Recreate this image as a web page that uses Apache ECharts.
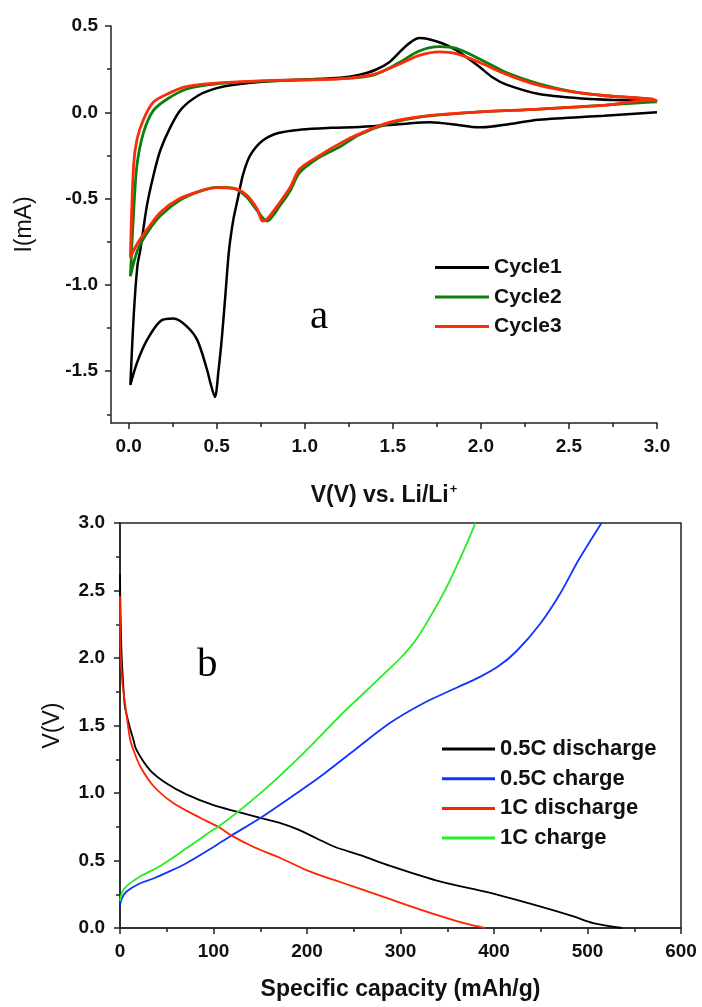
<!DOCTYPE html>
<html>
<head>
<meta charset="utf-8">
<script src="https://cdn.jsdelivr.net/npm/echarts@6/dist/echarts.min.js"></script>
<style>
html,body{margin:0;padding:0;background:#fff;}
#c{width:702px;height:1007px;}
</style>
</head>
<body>
<div id="c"></div>
<script>
// ---------- Panel a: cyclic voltammetry ----------
const cvNames = ['Cycle1', 'Cycle2', 'Cycle3'];
const cvXTicks = [0, 0.5, 1.0, 1.5, 2.0, 2.5, 3.0];
const cvXMinor = [0.25, 0.75, 1.25, 1.75, 2.25, 2.75];
const cvYTicks = [-1.5, -1.0, -0.5, 0.0, 0.5];
const cvYMinor = [-1.75, -1.25, -0.75, -0.25, 0.25];

const cycle1 = [
  [3.0, 0.0], [2.7, -0.02], [2.33, -0.043], [2.15, -0.07], [2.01, -0.087], [1.95, -0.085], [1.88, -0.075],
  [1.71, -0.058], [1.6, -0.063], [1.48, -0.074], [1.31, -0.085], [1.15, -0.09], [0.98, -0.1], [0.85, -0.12],
  [0.76, -0.165], [0.69, -0.25], [0.65, -0.36], [0.62, -0.5], [0.595, -0.62], [0.57, -0.8], [0.55, -1.05],
  [0.53, -1.3], [0.51, -1.5], [0.49, -1.65], [0.465, -1.57], [0.445, -1.49], [0.39, -1.32], [0.33, -1.24],
  [0.255, -1.195], [0.18, -1.21], [0.104, -1.32], [0.048, -1.45], [0.01, -1.58],
  [0.03, -1.16], [0.05, -0.89], [0.066, -0.8], [0.104, -0.54], [0.14, -0.37], [0.18, -0.22], [0.24, -0.08],
  [0.3, 0.02], [0.4, 0.1], [0.5, 0.14], [0.6, 0.16], [0.8, 0.18], [1.0, 0.19], [1.2, 0.2], [1.3, 0.215],
  [1.4, 0.245], [1.48, 0.29], [1.55, 0.36], [1.6, 0.405], [1.65, 0.43], [1.7, 0.425], [1.78, 0.4],
  [1.86, 0.36], [1.93, 0.31], [1.99, 0.265], [2.07, 0.2], [2.145, 0.16], [2.33, 0.106], [2.62, 0.077],
  [2.9, 0.068], [3.0, 0.065]
];
const cycle2 = [
  [3.0, 0.06], [2.9, 0.055], [2.71, 0.042], [2.33, 0.019], [1.955, 0.0], [1.67, -0.025], [1.48, -0.065],
  [1.31, -0.13], [1.2, -0.2], [1.085, -0.26], [0.97, -0.35], [0.92, -0.45], [0.86, -0.54], [0.785, -0.63],
  [0.73, -0.57], [0.67, -0.49], [0.595, -0.44], [0.5, -0.435], [0.41, -0.455], [0.29, -0.51], [0.18, -0.6],
  [0.104, -0.7], [0.05, -0.8], [0.01, -0.95],
  [0.03, -0.55], [0.048, -0.3], [0.085, -0.116], [0.14, 0.01], [0.22, 0.077], [0.33, 0.135], [0.5, 0.165],
  [0.8, 0.182], [1.2, 0.195], [1.39, 0.215], [1.54, 0.29], [1.65, 0.355], [1.765, 0.38], [1.86, 0.37],
  [1.99, 0.31], [2.145, 0.23], [2.33, 0.165], [2.52, 0.12], [2.71, 0.096], [2.97, 0.075], [3.0, 0.06]
];
const cycle3 = [
  [3.0, 0.065], [2.97, 0.071], [2.71, 0.042], [2.33, 0.019], [1.955, 0.0], [1.67, -0.023], [1.48, -0.058],
  [1.31, -0.125], [1.2, -0.18], [1.085, -0.25], [0.97, -0.33], [0.92, -0.43], [0.86, -0.52], [0.785, -0.62],
  [0.76, -0.63], [0.73, -0.56], [0.67, -0.48], [0.595, -0.44], [0.5, -0.436], [0.41, -0.455], [0.29, -0.5],
  [0.18, -0.58], [0.104, -0.68], [0.05, -0.76], [0.01, -0.84],
  [0.028, -0.31], [0.048, -0.155], [0.085, -0.04], [0.14, 0.058], [0.22, 0.106], [0.31, 0.145], [0.44, 0.165],
  [0.78, 0.184], [1.2, 0.194], [1.39, 0.22], [1.54, 0.28], [1.65, 0.33], [1.765, 0.35], [1.86, 0.34],
  [1.99, 0.29], [2.145, 0.22], [2.33, 0.156], [2.52, 0.119], [2.71, 0.096], [2.97, 0.077], [3.0, 0.065]
];

// ---------- Panel b: charge / discharge ----------
const gcNames = ['0.5C discharge', '0.5C charge', '1C discharge', '1C charge'];
const dis05 = [
  [0, 2.62], [0.5, 2.35], [1.8, 2.01], [3.5, 1.8], [5.3, 1.64], [10, 1.5], [14.3, 1.395], [17.5, 1.32],
  [32, 1.17], [50, 1.07], [71, 0.99], [100, 0.91], [126, 0.86], [150, 0.815], [170, 0.78], [190, 0.73],
  [210, 0.665], [230, 0.6], [257, 0.54], [289, 0.46], [342, 0.345], [396, 0.26], [449, 0.16], [485, 0.086],
  [506, 0.037], [537, 0.0]
];
const ch05 = [
  [0, 0.17], [2, 0.22], [7, 0.27], [21, 0.33], [35, 0.365], [50, 0.41], [71, 0.48], [100, 0.60], [118, 0.68],
  [150, 0.815], [185, 0.98], [214, 1.12], [253, 1.33], [289, 1.52], [325, 1.667], [360, 1.78], [385, 1.86],
  [405, 1.94], [424, 2.05], [449, 2.25], [471, 2.48], [490, 2.72], [515, 3.0]
];
const dis1 = [
  [0, 2.46], [0.7, 2.04], [2.5, 1.82], [5.3, 1.67], [10.7, 1.40], [14.3, 1.32], [21.4, 1.2], [36, 1.05],
  [57, 0.926], [86, 0.815], [105, 0.75], [118, 0.69], [143, 0.60], [171, 0.52], [200, 0.427], [228, 0.358],
  [257, 0.29], [307, 0.17], [342, 0.09], [371, 0.03], [390, 0.0]
];
const ch1 = [
  [0, 0.2], [2, 0.26], [7, 0.31], [21, 0.38], [43, 0.46], [71, 0.59], [100, 0.73], [105, 0.75], [126, 0.86],
  [157, 1.04], [185, 1.22], [207, 1.37], [235, 1.57], [257, 1.715], [282, 1.88], [300, 2.0], [315, 2.12],
  [328, 2.26], [346, 2.48], [360, 2.68], [373, 2.88], [380, 3.0]
];

const AX = '#222';
const SANS = 'Liberation Sans, Arial, sans-serif';
const SERIF = 'Liberation Serif, Times New Roman, serif';
const tickLabel = {fontFamily: SANS, fontWeight: 'bold', fontSize: 19, color: '#111'};
const nameBold = {fontFamily: SANS, fontWeight: 'bold', fontSize: 23, color: '#111'};
const nameReg = {fontFamily: SANS, fontSize: 23, color: '#111'};
const tickLine = {color: AX, width: 1.5};

const chart = echarts.init(document.getElementById('c'), null, {renderer: 'canvas'});

const option = {
  animation: false,
  backgroundColor: '#fff',
  grid: [
    {left: 111, right: 45, top: 26, bottom: 584},
    {left: 120, right: 21, top: 523, bottom: 79, show: true, borderColor: AX, borderWidth: 1.5, backgroundColor: 'transparent'}
  ],
  xAxis: [
    { // panel a main
      gridIndex: 0, type: 'value', position: 'bottom', min: -0.1, max: 3.0,
      axisLine: {onZero: false, lineStyle: tickLine},
      axisTick: {inside: false, length: 6, customValues: cvXTicks, lineStyle: tickLine},
      axisLabel: {customValues: cvXTicks, margin: 14, formatter: v => v.toFixed(1), ...tickLabel},
      splitLine: {show: false},
      name: '{n|V(V) vs. Li/Li}{s|+}', nameLocation: 'middle', nameGap: 60,
      nameTextStyle: {rich: {
        n: nameBold,
        s: {fontFamily: SANS, fontWeight: 'bold', fontSize: 13, color: '#111', verticalAlign: 'top', padding: [0, 0, 12, 1]}
      }}
    },
    { // panel a minor ticks
      gridIndex: 0, type: 'value', position: 'bottom', min: -0.1, max: 3.0,
      axisLine: {show: false, onZero: false},
      axisTick: {inside: false, length: 4, customValues: cvXMinor, lineStyle: tickLine},
      axisLabel: {show: false}, splitLine: {show: false}
    },
    { // panel b
      gridIndex: 1, type: 'value', position: 'bottom', min: 0, max: 600, interval: 100,
      axisLine: {onZero: false, lineStyle: tickLine},
      axisTick: {inside: false, length: 6, lineStyle: tickLine},
      minorTick: {show: true, splitNumber: 2, length: 4, lineStyle: tickLine},
      axisLabel: {margin: 14, ...tickLabel},
      splitLine: {show: false},
      name: 'Specific capacity (mAh/g)', nameLocation: 'middle', nameGap: 50,
      nameTextStyle: nameBold
    }
  ],
  yAxis: [
    {
      gridIndex: 0, type: 'value', position: 'left', min: -1.8, max: 0.5,
      axisLine: {show: true, onZero: false, lineStyle: tickLine},
      axisTick: {show: true, inside: false, length: 6, customValues: cvYTicks, lineStyle: tickLine},
      axisLabel: {customValues: cvYTicks, margin: 13, formatter: v => v.toFixed(1), ...tickLabel},
      splitLine: {show: false},
      name: 'I(mA)', nameLocation: 'middle', nameGap: 75,
      nameTextStyle: nameReg
    },
    {
      gridIndex: 0, type: 'value', position: 'left', min: -1.8, max: 0.5,
      axisLine: {show: false, onZero: false},
      axisTick: {show: true, inside: false, length: 4, customValues: cvYMinor, lineStyle: tickLine},
      axisLabel: {show: false}, splitLine: {show: false}
    },
    {
      gridIndex: 1, type: 'value', position: 'left', min: 0, max: 3.0, interval: 0.5,
      axisLine: {show: true, onZero: false, lineStyle: tickLine},
      axisTick: {show: true, inside: false, length: 6, lineStyle: tickLine},
      minorTick: {show: true, splitNumber: 2, length: 4, lineStyle: tickLine},
      axisLabel: {margin: 15, formatter: v => v.toFixed(1), ...tickLabel},
      splitLine: {show: false},
      name: 'V(V)', nameLocation: 'middle', nameGap: 56,
      nameTextStyle: nameReg
    }
  ],
  legend: [
    {
      data: cvNames, orient: 'vertical', left: 430, top: 252, itemWidth: 54, itemHeight: 3, itemGap: 8.5,
      icon: 'rect', textStyle: {fontFamily: SANS, fontWeight: 'bold', fontSize: 21, lineHeight: 21, color: '#111'}
    },
    {
      data: gcNames, orient: 'vertical', left: 437, top: 733, itemWidth: 53, itemHeight: 3, itemGap: 7.7,
      icon: 'rect', textStyle: {fontFamily: SANS, fontWeight: 'bold', fontSize: 22, lineHeight: 22, color: '#111'}
    }
  ],
  graphic: [
    {type: 'text', left: 310, top: 297, style: {text: 'a', font: '41px ' + SERIF, fill: '#000'}},
    {type: 'text', left: 197, top: 645, style: {text: 'b', font: '41px ' + SERIF, fill: '#000'}}
  ],
  series: [
    {name: 'Cycle1', type: 'line', xAxisIndex: 0, yAxisIndex: 0, data: cycle1, smooth: 0.3, showSymbol: false, lineStyle: {color: '#000', width: 2.5}, itemStyle: {color: '#000'}},
    {name: 'Cycle2', type: 'line', xAxisIndex: 0, yAxisIndex: 0, data: cycle2, smooth: 0.3, showSymbol: false, lineStyle: {color: '#0a800a', width: 2.8}, itemStyle: {color: '#0a800a'}},
    {name: 'Cycle3', type: 'line', xAxisIndex: 0, yAxisIndex: 0, data: cycle3, smooth: 0.3, showSymbol: false, lineStyle: {color: '#ff2a0a', width: 2.8}, itemStyle: {color: '#ff2a0a'}},
    {name: '0.5C discharge', type: 'line', xAxisIndex: 2, yAxisIndex: 2, data: dis05, smooth: 0.3, showSymbol: false, lineStyle: {color: '#000', width: 1.8}, itemStyle: {color: '#000'}},
    {name: '0.5C charge', type: 'line', xAxisIndex: 2, yAxisIndex: 2, data: ch05, smooth: 0.3, showSymbol: false, lineStyle: {color: '#1033ff', width: 1.8}, itemStyle: {color: '#1033ff'}},
    {name: '1C discharge', type: 'line', xAxisIndex: 2, yAxisIndex: 2, data: dis1, smooth: 0.3, showSymbol: false, lineStyle: {color: '#ff2200', width: 1.8}, itemStyle: {color: '#ff2200'}},
    {name: '1C charge', type: 'line', xAxisIndex: 2, yAxisIndex: 2, data: ch1, smooth: 0.3, showSymbol: false, lineStyle: {color: '#22ee22', width: 1.8}, itemStyle: {color: '#22ee22'}}
  ]
};
chart.setOption(option);
</script>
</body>
</html>
